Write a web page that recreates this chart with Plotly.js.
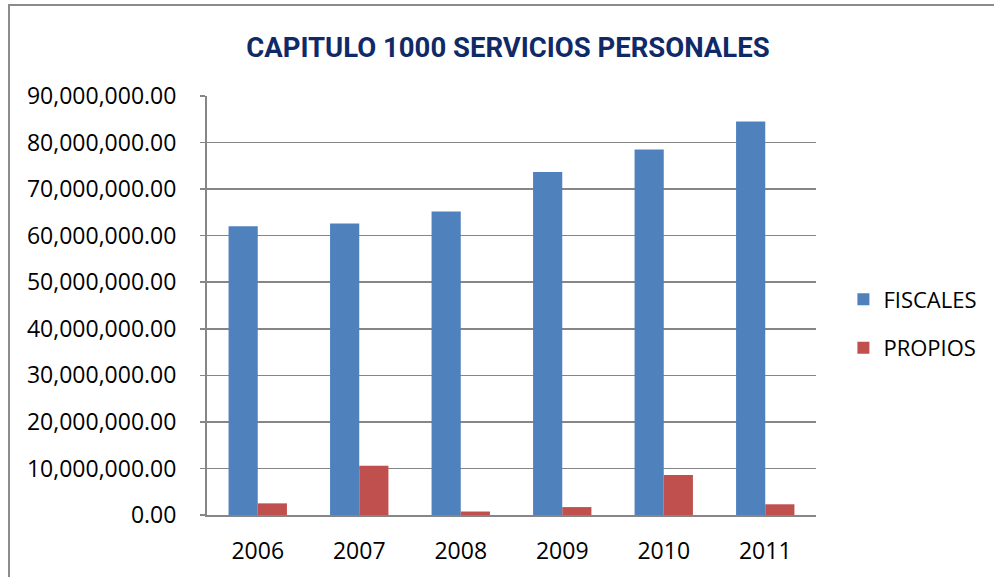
<!DOCTYPE html>
<html>
<head>
<meta charset="utf-8">
<script src="https://cdn.plot.ly/plotly-3.0.1.min.js"></script>
<style>
  html, body { margin: 0; padding: 0; background: #fff; }
  #wrap { position: relative; width: 994px; height: 577px; overflow: hidden; }
  #chart { position: absolute; left: 0; top: 0; width: 994px; height: 577px; }
  #frameTop { position: absolute; left: 8px; top: 4px; width: 986px; height: 0; border-top: 2px solid #8c8c8c; }
  #frameLeft { position: absolute; left: 8px; top: 4px; width: 0; height: 573px; border-left: 2px solid #8c8c8c; }
</style>
</head>
<body>
<div id="wrap">
  <div id="chart"></div>
  <div id="frameTop"></div>
  <div id="frameLeft"></div>
</div>
<script>
const years = ["2006", "2007", "2008", "2009", "2010", "2011"];
const fiscales = [62000000, 62600000, 65200000, 73700000, 78500000, 84500000];
const propios = [2500000, 10600000, 750000, 1700000, 8600000, 2300000];
const yTicks = [0, 10000000, 20000000, 30000000, 40000000, 50000000, 60000000, 70000000, 80000000, 90000000];

const traces = [
  { type: "bar", name: "FISCALES", x: years, y: fiscales, legendgroup: "a",
    marker: { color: "#4F81BD" } },
  { type: "bar", name: "PROPIOS", x: years, y: propios, legendgroup: "b",
    marker: { color: "#C0504D" } }
];

const layout = {
  width: 994, height: 577,
  paper_bgcolor: "#ffffff", plot_bgcolor: "#ffffff",
  margin: { l: 207, r: 170, t: 96, b: 62 },
  barmode: "group", bargap: 0.425, bargroupgap: 0,
  title: { text: "<b>CAPITULO 1000 SERVICIOS PERSONALES</b>",
    font: { family: "Roboto, Open Sans, sans-serif", size: 27.5, color: "#102A68" },
    x: 0.511, xanchor: "center", y: 0.918, yanchor: "middle" },
  xaxis: {
    type: "category", showgrid: false, zeroline: false,
    showline: true, linecolor: "#868686", linewidth: 2,
    ticks: "", ticklabelstandoff: 14,
    tickfont: { family: "Open Sans, sans-serif", size: 23, color: "#000" }
  },
  yaxis: {
    range: [0, 90000000], tickvals: yTicks, tickformat: ",.2f",
    showgrid: true, gridcolor: "#868686", gridwidth: 1.5,
    zeroline: false, showline: true, linecolor: "#868686", linewidth: 2,
    ticks: "outside", ticklen: 5, tickcolor: "#868686", tickwidth: 1.5,
    ticklabelstandoff: 19,
    tickfont: { family: "Open Sans, sans-serif", size: 23, color: "#000" }
  },
  showlegend: true,
  legend: {
    x: 1.045, xanchor: "left", y: 0.456, yanchor: "middle",
    traceorder: "grouped", tracegroupgap: 17,
    font: { family: "Open Sans, sans-serif", size: 22, color: "#000" },
    bgcolor: "rgba(0,0,0,0)", itemwidth: 30
  }
};

Plotly.newPlot("chart", traces, layout, { displayModeBar: false, staticPlot: true });
</script>
</body>
</html>
